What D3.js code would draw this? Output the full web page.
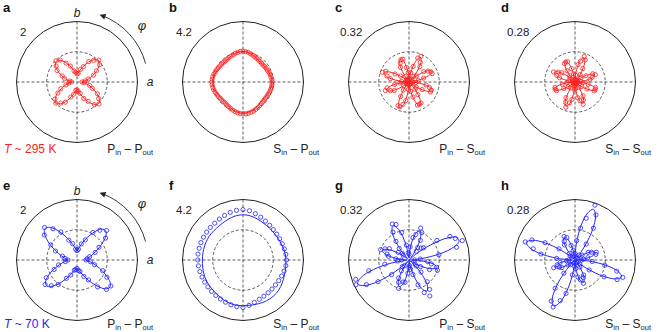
<!DOCTYPE html>
<html>
<head>
<meta charset="utf-8">
<script src="https://cdn.jsdelivr.net/npm/d3@7"></script>
<style>
  html, body { margin: 0; padding: 0; background: #fff; }
  svg { display: block; font-family: "Liberation Sans", Arial, sans-serif; }
</style>
</head>
<body>
<svg id="chart" width="664" height="332"></svg>
<script>
// --- data: polar SHG patterns, radius vs angle phi (deg, from a towards b) ---
const fitAngles = d3.range(0, 360, 5);      // fit curves sampled every 5 deg
const dataAngles = d3.range(0, 360, 5);     // measured points every 5 deg
const dataAnglesWide = d3.range(0, 360, 7.5);  // panels a, e, f measured every 7.5 deg

const panelLetters = ["a", "b", "c", "d", "e", "f", "g", "h"];
const maxValues = [2, 4.2, 0.32, 0.28];
const maxLabels = ["2", "4.2", "0.32", "0.28"];
const channels = [["P", "in", "P", "out"], ["S", "in", "P", "out"], ["P", "in", "S", "out"], ["S", "in", "S", "out"]];
const temperatures = ["295", "70"];

// row 1, T ~ 295 K
const fitA = [
  .16, .2, .3, .41, .51, .63, .76, .88, .96, 1.0, .96, .88,
  .76, .63, .51, .41, .33, .28, .26, .28, .33, .40, .49, .61,
  .74, .85, .93, .97, .93, .85, .74, .61, .49, .40, .30, .2,
  .17, .2, .3, .4, .5, .62, .75, .86, .94, .98, .94, .86,
  .75, .62, .5, .4, .32, .27, .25, .27, .33, .41, .51, .63,
  .76, .88, .97, 1.01, .97, .88, .76, .63, .51, .41, .3, .2
];
const dataA = [
  .17, .27, .39, .59, .74, .94, 1.02, .9, .78, .55, .43, .29,
  .27, .32, .38, .57, .72, .91, .99, .87, .76, .53, .42, .24,
  .18, .27, .38, .58, .73, .92, .99, .88, .77, .54, .42, .28,
  .26, .32, .39, .59, .74, .94, 1.03, .9, .78, .55, .43, .24
];
const fitB = [
  2.00, 1.99, 1.98, 1.95, 1.92, 1.89, 1.86, 1.84, 1.83, 1.83, 1.84, 1.86,
  1.89, 1.93, 1.98, 2.03, 2.08, 2.12, 2.13, 2.12, 2.10, 2.06, 2.02, 1.97,
  1.93, 1.89, 1.87, 1.86, 1.86, 1.88, 1.91, 1.95, 1.99, 2.03, 2.06, 2.08,
  2.09, 2.08, 2.06, 2.03, 1.99, 1.95, 1.91, 1.88, 1.87, 1.87, 1.88, 1.91,
  1.95, 2.00, 2.05, 2.10, 2.14, 2.17, 2.18, 2.17, 2.14, 2.10, 2.06, 2.01,
  1.96, 1.91, 1.87, 1.85, 1.85, 1.86, 1.88, 1.91, 1.94, 1.96, 1.98, 1.99
];
const dataB = [
  2.03, 2.01, 1.97, 1.96, 1.93, 1.88, 1.87, 1.85, 1.82, 1.84, 1.85, 1.87,
  1.90, 1.92, 1.99, 2.02, 2.09, 2.11, 2.15, 2.13, 2.09, 2.07, 2.01, 1.98,
  1.95, 1.92, 1.91, 1.92, 1.93, 1.95, 1.98, 2.02, 2.06, 2.09, 2.13, 2.15,
  2.16, 2.15, 2.13, 2.10, 2.06, 2.02, 1.98, 1.95, 1.93, 1.92, 1.91, 1.94,
  1.98, 2.03, 2.08, 2.13, 2.17, 2.20, 2.21, 2.22, 2.20, 2.17, 2.14, 2.10,
  2.06, 2.01, 1.97, 1.94, 1.92, 1.92, 1.93, 1.95, 1.97, 1.99, 2.01, 2.02
];
const fitC = [
  .01, .01, .043, .087, .121, .134, .121, .087, .043, .015, .046, .093,
  .129, .143, .129, .093, .046, .01, .01, .042, .085, .117, .130, .117,
  .085, .042, .008, 0, .009, .046, .093, .129, .143, .129, .093, .046,
  .015, .041, .083, .114, .127, .114, .083, .041, .008, 0, .009, .046,
  .094, .13, .145, .13, .094, .046, .009, .008, .044, .089, .123, .137,
  .123, .089, .044, .008, .008, .042, .086, .119, .132, .119, .086, .042
];
const dataC = [
  .02, .015, .05, .08, .13, .128, .115, .095, .05, .02, .04, .1,
  .12, .15, .135, .085, .05, .015, .02, .05, .078, .125, .125, .11,
  .09, .035, .015, .01, .015, .055, .085, .135, .15, .12, .1, .04,
  .02, .048, .077, .12, .133, .108, .09, .035, .015, .01, .012, .052,
  .088, .138, .14, .122, .1, .04, .015, .014, .05, .082, .13, .13,
  .128, .082, .05, .012, .014, .048, .08, .125, .126, .112, .092, .036
];
const fitD = [
  .01, .031, .063, .087, .097, .087, .063, .031, .006, 0, .007, .038,
  .078, .108, .120, .108, .078, .038, .007, .006, .034, .069, .095, .106,
  .095, .069, .034, .012, .034, .069, .095, .106, .095, .069, .034, .006,
  .006, .033, .066, .092, .102, .092, .066, .033, .006, 0, .007, .038,
  .078, .108, .120, .108, .078, .038, .013, .034, .069, .095, .106, .095,
  .069, .034, .006, 0, .006, .033, .068, .094, .104, .094, .068, .033
];
const dataD = [
  .015, .028, .07, .082, .1, .09, .058, .035, .01, .005, .012, .042,
  .072, .112, .125, .1, .082, .032, .012, .01, .038, .064, .1, .102,
  .098, .064, .038, .015, .03, .075, .09, .11, .09, .074, .03, .01,
  .01, .037, .06, .096, .098, .095, .06, .038, .01, .005, .01, .034,
  .084, .104, .124, .1, .082, .034, .016, .03, .074, .09, .11, .092,
  .074, .03, .01, .005, .01, .038, .064, .098, .1, .098, .062, .036
];

// row 2, T ~ 70 K
const fitE = [
  .29, .31, .36, .45, .56, .69, .87, 1.06, 1.25, 1.35, 1.33, 1.21,
  1.02, .84, .67, .53, .42, .35, .30, .35, .42, .53, .66, .83,
  1.03, 1.24, 1.41, 1.48, 1.41, 1.24, 1.03, .83, .66, .53, .42, .35,
  .29, .36, .47, .60, .76, .95, 1.13, 1.27, 1.32, 1.24, 1.08, .89,
  .72, .57, .45, .37, .31, .29, .29, .31, .35, .41, .50, .63,
  .79, .98, 1.18, 1.35, 1.41, 1.35, 1.18, .98, .79, .63, .50, .36
];
const dataE = [
  .3, .34, .43, .65, .84, 1.19, 1.38, 1.24, 1.05, .72, .55, .36,
  .31, .36, .56, .71, 1.07, 1.3, 1.52, 1.36, 1.0, .77, .5, .4,
  .3, .39, .63, .82, 1.17, 1.33, 1.2, 1.02, .7, .54, .35, .32,
  .28, .35, .39, .59, .76, 1.12, 1.38, 1.41, 1.14, .92, .6, .45
];
const fitF = [
  2.98, 2.97, 2.95, 2.93, 2.90, 2.88, 2.86, 2.85, 2.85, 2.86, 2.87, 2.89,
  2.92, 2.96, 3.01, 3.06, 3.10, 3.13, 3.14, 3.13, 3.10, 3.06, 3.01, 2.96,
  2.92, 2.89, 2.87, 2.87, 2.87, 2.87, 2.86, 2.85, 2.84, 2.83, 2.82, 2.82,
  2.82, 2.83, 2.84, 2.86, 2.88, 2.90, 2.92, 2.93, 2.94, 2.95, 2.97, 3.00,
  3.04, 3.08, 3.12, 3.15, 3.17, 3.18, 3.17, 3.17, 3.18, 3.20, 3.22, 3.25,
  3.27, 3.28, 3.28, 3.27, 3.24, 3.20, 3.15, 3.10, 3.06, 3.03, 3.01, 2.99
];
const dataF = [
  3.02, 3.00, 2.97, 2.95, 2.94, 2.95, 2.98, 3.04,
  3.12, 3.22, 3.33, 3.45, 3.50, 3.48, 3.42, 3.35,
  3.28, 3.22, 3.20, 3.18, 3.17, 3.16, 3.15, 3.15,
  3.14, 3.12, 3.10, 3.08, 3.07, 3.07, 3.08, 3.10,
  3.13, 3.17, 3.22, 3.27, 3.30, 3.18, 3.05, 2.95,
  2.90, 2.87, 2.85, 2.84, 2.86, 2.90, 2.95, 3.00
];
const fitG = [
  .012, .045, .139, .232, .281, .281, .232, .139, .052, 0, .01, .053,
  .107, .149, .165, .149, .107, .053, .01, .012, .064, .13, .18, .2,
  .18, .13, .064, .012, .009, .048, .098, .135, .15, .135, .098, .048,
  .01, .018, .096, .195, .27, .30, .27, .195, .096, .018, .009, .048,
  .098, .135, .15, .135, .098, .048, .009, 0, .011, .061, .124, .171,
  .19, .171, .124, .061, .011, .009, .048, .098, .135, .15, .135, .075
];
const dataG = [
  .03, .06, .16, .26, .3, .27, .25, .18, .1, .09, .06, .08,
  .12, .16, .18, .14, .12, .07, .03, .04, .08, .15, .2, .21,
  .17, .12, .08, .05, .04, .07, .12, .14, .16, .12, .11, .07,
  .04, .06, .13, .22, .3, .31, .26, .2, .12, .05, .04, .07,
  .11, .13, .16, .12, .12, .07, .04, .03, .05, .08, .14, .19,
  .22, .19, .15, .09, .05, .04, .07, .12, .16, .15, .12, .1
];
const fitH = [
  .02, .032, .065, .09, .1, .09, .065, .032, .006, .005, .015, .08,
  .163, .225, .25, .225, .163, .08, .015, .007, .037, .076, .105, .117,
  .105, .076, .037, .007, .014, .077, .156, .216, .24, .216, .156, .077,
  .02, .032, .065, .09, .1, .09, .065, .032, .006, .014, .075, .153,
  .212, .235, .212, .153, .075, .014, .007, .036, .073, .101, .112, .101,
  .073, .036, .007, 0, .014, .074, .15, .207, .23, .207, .15, .074
];
const dataH = [
  .03, .04, .06, .1, .105, .085, .07, .04, .015, .01, .03, .09,
  .17, .23, .27, .2, .15, .09, .03, .02, .045, .07, .11, .12,
  .1, .085, .04, .02, .03, .09, .16, .22, .245, .2, .16, .085,
  .03, .04, .07, .085, .105, .08, .07, .04, .015, .03, .08, .16,
  .22, .24, .2, .16, .07, .03, .015, .04, .08, .095, .115, .09,
  .08, .04, .015, .01, .03, .08, .155, .215, .235, .2, .14, .08
];

const fits = [fitA, fitB, fitC, fitD, fitE, fitF, fitG, fitH];
const measured = [dataA, dataB, dataC, dataD, dataE, dataF, dataG, dataH];
const measuredAngles = [dataAnglesWide, dataAngles, dataAngles, dataAngles,
  dataAnglesWide, dataAnglesWide, dataAngles, dataAngles];

// --- layout ---
const R = 60.5;
const rowColors = ["#ff2020", "#2424ff"];
const colX = d3.scalePoint().domain([0, 1, 2, 3]).range([77, 575]);
const rowY = d3.scalePoint().domain([0, 1]).range([82, 260]);
const maxLabelDx = [-57, -67, -69, -68];
const bottomTextDy = [70.5, 67.5];
// phi = 0 along +x (a), increasing counter-clockwise towards b
const ang = d3.scaleLinear().domain([0, 360]).range([Math.PI / 2, Math.PI / 2 - 2 * Math.PI]);

const svg = d3.select("#chart");

svg.append("defs")
  .append("marker")
  .attr("id", "arrowhead")
  .attr("viewBox", "0 0 10 10")
  .attr("refX", 7)
  .attr("refY", 5)
  .attr("markerUnits", "userSpaceOnUse")
  .attr("markerWidth", 7)
  .attr("markerHeight", 6)
  .attr("orient", "auto")
  .append("path")
  .attr("d", "M0,0L10,5L0,10z")
  .attr("fill", "#222");

[0, 1].forEach((row) => {
  [0, 1, 2, 3].forEach((col) => {
    const i = row * 4 + col;
    const cx = colX(col), cy = rowY(row);
    const color = rowColors[row];
    const r = d3.scaleLinear().domain([0, maxValues[col]]).range([0, R]);
    const g = svg.append("g").attr("transform", `translate(${cx},${cy})`);

    // frame: outer circle, half-scale dashed circle, dashed cross
    g.append("circle").attr("r", R)
      .attr("fill", "none").attr("stroke", "#222").attr("stroke-width", 1);
    g.append("circle").attr("r", r(maxValues[col] / 2))
      .attr("fill", "none").attr("stroke", "#333").attr("stroke-width", 0.8)
      .attr("stroke-dasharray", "3,2");
    g.append("line").attr("x1", -R).attr("x2", R)
      .attr("stroke", "#333").attr("stroke-width", 0.8).attr("stroke-dasharray", "3,2");
    g.append("line").attr("y1", -R).attr("y2", R)
      .attr("stroke", "#333").attr("stroke-width", 0.8).attr("stroke-dasharray", "3,2");

    // fit curve
    const line = d3.lineRadial()
      .angle((d, k) => ang(fitAngles[k]))
      .radius((d) => r(d))
      .curve(d3.curveCatmullRomClosed.alpha(0.5));
    g.append("path").attr("d", line(fits[i]))
      .attr("fill", "none").attr("stroke", color).attr("stroke-width", 1);

    // measured points
    g.selectAll(".pt")
      .data(measured[i])
      .enter()
      .append("circle")
      .attr("class", "pt")
      .attr("cx", (d, k) => d3.pointRadial(ang(measuredAngles[i][k]), r(d))[0])
      .attr("cy", (d, k) => d3.pointRadial(ang(measuredAngles[i][k]), r(d))[1])
      .attr("r", 2.1)
      .attr("fill", "none")
      .attr("stroke", color)
      .attr("stroke-width", 0.8);

    // texts
    const by = bottomTextDy[row];
    g.append("text").attr("x", -74).attr("y", -70)
      .attr("font-size", 13).attr("font-weight", "bold").attr("fill", "#111")
      .text(panelLetters[i]);
    g.append("text").attr("x", maxLabelDx[col]).attr("y", -46.5)
      .attr("font-size", 11.5).attr("fill", "#222")
      .text(maxLabels[col]);

    const ch = channels[col];
    const lab = g.append("text").attr("x", 76).attr("y", by)
      .attr("text-anchor", "end").attr("font-size", 12).attr("fill", "#222");
    lab.append("tspan").text(ch[0]);
    lab.append("tspan").attr("font-size", 7.5).attr("dy", 2.5).text(ch[1]);
    lab.append("tspan").attr("dy", -2.5).text(" \u2013 " + ch[2]);
    lab.append("tspan").attr("font-size", 7.5).attr("dy", 2.5).text(ch[3]);

    if (col === 0) {
      const t = g.append("text").attr("x", -73).attr("y", by)
        .attr("font-size", 12).attr("fill", color);
      t.append("tspan").attr("font-style", "italic").text("T");
      t.append("tspan").text(" ~ " + temperatures[row] + " K");

      g.append("text").attr("x", 0).attr("y", -65.5)
        .attr("text-anchor", "middle").attr("font-size", 12)
        .attr("font-style", "italic").attr("fill", "#222").text("b");
      g.append("text").attr("x", 73).attr("y", 3.5)
        .attr("text-anchor", "middle").attr("font-size", 12)
        .attr("font-style", "italic").attr("fill", "#222").text("a");
      g.append("text").attr("x", 65).attr("y", -52)
        .attr("text-anchor", "middle").attr("font-size", 13)
        .attr("font-style", "italic").attr("fill", "#222").text("\u03c6");

      // rotation arrow for phi
      const p = d3.path();
      const a0 = -15 * Math.PI / 180, a1 = -70 * Math.PI / 180;
      p.moveTo(71 * Math.cos(a0), 71 * Math.sin(a0));
      p.arc(0, 0, 71, a0, a1, true);
      g.append("path").attr("d", p.toString())
        .attr("fill", "none").attr("stroke", "#222").attr("stroke-width", 0.9)
        .attr("marker-end", "url(#arrowhead)");
    }
  });
});
</script>
</body>
</html>
